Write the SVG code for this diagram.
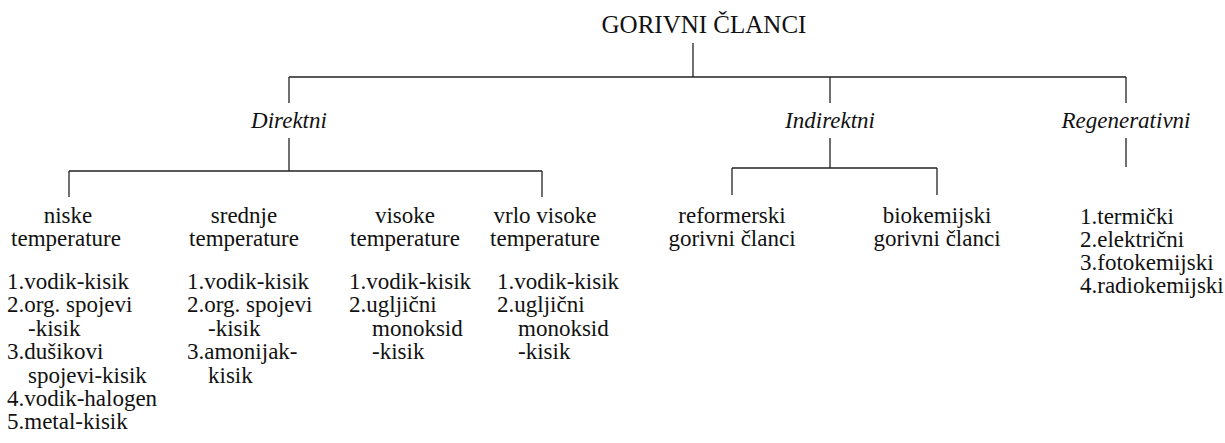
<svg xmlns="http://www.w3.org/2000/svg" width="1225" height="443" viewBox="0 0 1225 443">
<style>
text{font-family:"Liberation Serif","Times New Roman",Times,"DejaVu Serif",serif;font-size:23px;fill:#111}
.c{text-anchor:middle}
.i{font-style:italic}
.t{font-size:25px}
#connectors line{stroke:#222;stroke-width:1.3;fill:none}
</style>
<rect width="1225" height="443" fill="#fff"/>
<g id="connectors">
<line x1="693" y1="43" x2="693" y2="77"/>
<line x1="289" y1="77" x2="1126" y2="77"/>
<line x1="289" y1="77" x2="289" y2="103"/>
<line x1="830" y1="77" x2="830" y2="103"/>
<line x1="1126" y1="77" x2="1126" y2="103"/>
<line x1="289" y1="138" x2="289" y2="171"/>
<line x1="69" y1="171" x2="542" y2="171"/>
<line x1="69" y1="171" x2="69" y2="197"/>
<line x1="542" y1="171" x2="542" y2="197"/>
<line x1="830" y1="138" x2="830" y2="168"/>
<line x1="732" y1="168" x2="937" y2="168"/>
<line x1="732" y1="168" x2="732" y2="195"/>
<line x1="937" y1="168" x2="937" y2="195"/>
<line x1="1126" y1="138" x2="1126" y2="167"/>
</g>
<g id="root"><text class="c t" x="704" y="33">GORIVNI ČLANCI</text></g>
<g id="direktni"><text class="c i" x="289" y="128">Direktni</text></g>
<g id="indirektni"><text class="c i" x="830" y="128">Indirektni</text></g>
<g id="regenerativni"><text class="c i" x="1126" y="128">Regenerativni</text></g>
<g id="niske">
<text class="c" x="68" y="223">niske</text>
<text class="c" x="66" y="246">temperature</text>
<text x="7" y="289">1.vodik-kisik</text>
<text x="7" y="312">2.org. spojevi</text>
<text x="28" y="336">-kisik</text>
<text x="7" y="359">3.dušikovi</text>
<text x="28" y="383">spojevi-kisik</text>
<text x="7" y="406">4.vodik-halogen</text>
<text x="7" y="429">5.metal-kisik</text>
</g>
<g id="srednje">
<text class="c" x="244" y="223">srednje</text>
<text class="c" x="244" y="246">temperature</text>
<text x="187" y="289">1.vodik-kisik</text>
<text x="187" y="312">2.org. spojevi</text>
<text x="208" y="336">-kisik</text>
<text x="187" y="359">3.amonijak-</text>
<text x="208" y="383">kisik</text>
</g>
<g id="visoke">
<text class="c" x="405" y="223">visoke</text>
<text class="c" x="405" y="246">temperature</text>
<text x="349" y="289">1.vodik-kisik</text>
<text x="349" y="312">2.ugljični</text>
<text x="372" y="336">monoksid</text>
<text x="372" y="359">-kisik</text>
</g>
<g id="vrlo-visoke">
<text class="c" x="545" y="223">vrlo visoke</text>
<text class="c" x="545" y="246">temperature</text>
<text x="497" y="289">1.vodik-kisik</text>
<text x="497" y="312">2.ugljični</text>
<text x="518" y="336">monoksid</text>
<text x="518" y="359">-kisik</text>
</g>
<g id="reformerski">
<text class="c" x="732" y="223">reformerski</text>
<text class="c" x="732" y="246">gorivni članci</text>
</g>
<g id="biokemijski">
<text class="c" x="937" y="223">biokemijski</text>
<text class="c" x="937" y="246">gorivni članci</text>
</g>
<g id="regenerativni-list">
<text x="1080" y="224">1.termički</text>
<text x="1080" y="247">2.električni</text>
<text x="1080" y="270">3.fotokemijski</text>
<text x="1080" y="293">4.radiokemijski</text>
</g>
</svg>
